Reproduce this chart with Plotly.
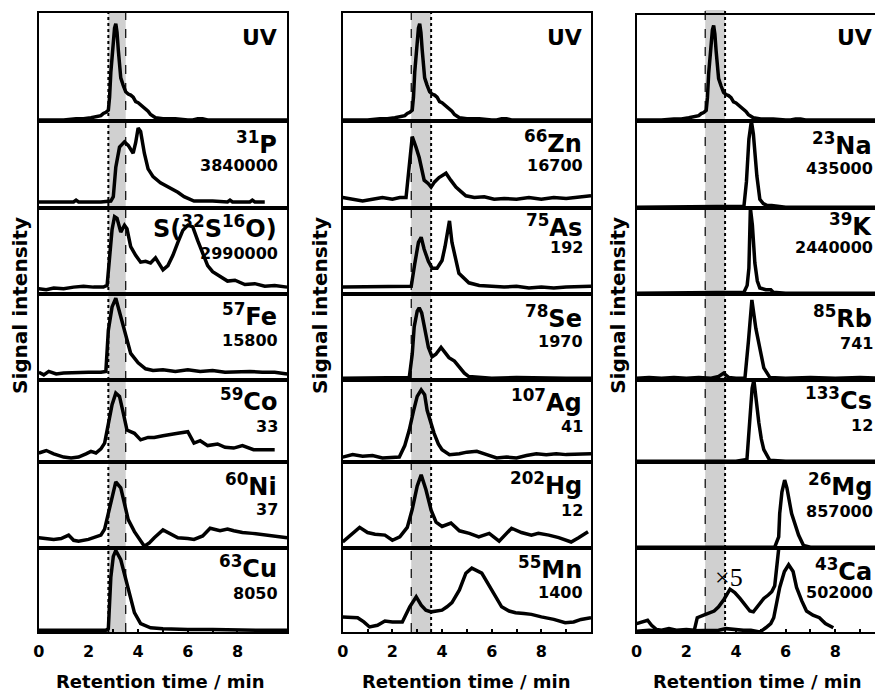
import plotly.graph_objects as go

# ---------------- data (normalised signal, fraction of panel height) ----------------
uv_t = [0, 0.5, 1.0, 1.5, 1.8, 2.1, 2.3, 2.5, 2.6, 2.7, 2.8, 2.85, 2.9, 2.95, 3.0, 3.05, 3.1, 3.15, 3.2, 3.25,
        3.3, 3.4, 3.5, 3.6, 3.7, 3.8, 3.9, 4.0, 4.1, 4.2, 4.3, 4.4, 4.5, 4.7, 5.0, 5.5, 6.0, 6.2, 6.4, 6.6,
        6.8, 7.0, 7.5, 8.0, 9.0, 10]
uv_y = [0.01, 0.01, 0.01, 0.02, 0.02, 0.03, 0.04, 0.05, 0.07, 0.08, 0.1, 0.22, 0.45, 0.62, 0.8, 0.86, 0.9, 0.82,
        0.66, 0.5, 0.4, 0.33, 0.27, 0.25, 0.24, 0.22, 0.18, 0.17, 0.15, 0.14, 0.12, 0.09, 0.06, 0.03, 0.02,
        0.02, 0.01, 0.01, 0.02, 0.02, 0.01, 0.01, 0.01, 0.01, 0.01, 0.01]

p_t = [0, 1.4, 1.5, 1.6, 2.5, 2.9, 3.0, 3.1, 3.25, 3.45, 3.6, 3.8, 3.9, 4.0, 4.1, 4.25, 4.4, 4.6, 4.9, 5.3,
       5.6, 5.85, 6.25, 7.0, 7.6, 7.7, 7.8, 8.5, 8.6, 8.7, 9.1]
p_y = [0.07, 0.07, 0.09, 0.07, 0.07, 0.08, 0.13, 0.47, 0.70, 0.76, 0.72, 0.63, 0.75, 0.92, 0.88, 0.63, 0.45,
       0.36, 0.29, 0.23, 0.18, 0.13, 0.08, 0.08, 0.07, 0.09, 0.07, 0.07, 0.09, 0.07, 0.07]

s_t = [0, 0.3, 0.6, 1.0, 1.4, 1.8, 2.2, 2.6, 2.75, 2.85, 2.95, 3.05, 3.15, 3.3, 3.45, 3.55, 3.7, 3.9, 4.1,
       4.3, 4.5, 4.7, 4.85, 5.0, 5.2, 5.4, 5.6, 5.8, 6.0, 6.2, 6.4, 6.6, 6.8, 7.0, 7.3, 7.6, 7.9, 8.3, 8.7,
       9.1, 9.5, 10]
s_y = [0.06, 0.05, 0.07, 0.06, 0.08, 0.09, 0.08, 0.08, 0.1, 0.4, 0.75, 0.9, 0.88, 0.72, 0.8, 0.76, 0.55,
       0.45, 0.37, 0.38, 0.36, 0.42, 0.35, 0.28, 0.33, 0.45, 0.6, 0.74, 0.8, 0.78, 0.62, 0.48, 0.33, 0.26,
       0.2, 0.15, 0.16, 0.11, 0.12, 0.09, 0.1, 0.08]

fe_t = [0, 0.2, 0.4, 0.7, 1.0, 1.5, 2.0, 2.5, 2.7, 2.8, 2.95, 3.1, 3.3, 3.5, 3.7, 4.0, 4.3, 4.6, 5.0, 5.5,
        6.0, 6.5, 7.0, 7.5, 8.0, 8.5, 9.0, 9.5, 10]
fe_y = [0.09, 0.06, 0.1, 0.07, 0.08, 0.09, 0.09, 0.09, 0.1, 0.58, 0.85, 0.95, 0.73, 0.5, 0.31, 0.2, 0.13,
        0.11, 0.12, 0.1, 0.12, 0.1, 0.11, 0.09, 0.1, 0.1, 0.09, 0.09, 0.07]

co_t = [0, 0.3, 0.6, 1.0, 1.3, 1.6, 1.9, 2.1, 2.3, 2.5, 2.65, 2.8, 2.95, 3.1, 3.25, 3.4, 3.55, 3.85, 4.1,
        4.4, 4.65, 5.0, 5.3, 5.6, 6.0, 6.25, 6.5, 6.8, 7.2, 7.5, 7.85, 8.2, 8.65, 9.0, 9.5]
co_y = [0.11, 0.14, 0.1, 0.06, 0.05, 0.06, 0.1, 0.13, 0.11, 0.16, 0.23, 0.45, 0.7, 0.84, 0.8, 0.6, 0.39,
        0.35, 0.27, 0.3, 0.3, 0.32, 0.34, 0.35, 0.37, 0.23, 0.26, 0.2, 0.22, 0.18, 0.17, 0.2, 0.15, 0.15, 0.15]

ni_t = [0, 0.3, 0.6, 0.9, 1.2, 1.4, 1.6, 2.0, 2.3, 2.5, 2.65, 2.8, 2.95, 3.1, 3.3, 3.45, 3.6, 3.85, 4.05,
        4.25, 4.45, 4.65, 5.0, 5.3, 5.6, 6.0, 6.25, 6.6, 6.9, 7.3, 7.6, 7.85, 8.2, 8.6, 9.2, 9.6, 10]
ni_y = [0.12, 0.11, 0.1, 0.11, 0.15, 0.09, 0.08, 0.1, 0.13, 0.15, 0.22, 0.4, 0.62, 0.77, 0.7, 0.5, 0.33,
        0.19, 0.1, 0.02, 0.06, 0.12, 0.21, 0.16, 0.12, 0.11, 0.1, 0.14, 0.23, 0.2, 0.22, 0.2, 0.18, 0.17,
        0.15, 0.13, 0.12]

cu_t = [0, 1.0, 1.5, 2.0, 2.7, 2.8, 2.9, 3.0, 3.1, 3.3, 3.45, 3.6, 3.85, 4.1, 4.5, 5.0, 5.5, 6.0, 7.0, 8.0,
        9.0, 10]
cu_y = [0.02, 0.02, 0.01, 0.02, 0.02, 0.04, 0.65, 0.9, 0.97, 0.86, 0.68, 0.5, 0.23, 0.1, 0.05, 0.04, 0.03,
        0.03, 0.03, 0.02, 0.02, 0.02]

zn_t = [0, 0.4, 0.8, 1.2, 1.6, 2.0, 2.3, 2.55, 2.65, 2.8, 2.95, 3.08, 3.28, 3.45, 3.56, 3.7, 3.88, 4.16,
        4.35, 4.56, 4.8, 4.96, 5.3, 5.7, 6.1, 6.5, 7.0, 7.5, 8.0, 8.5, 9.0, 9.5, 10]
zn_y = [0.12, 0.1, 0.08, 0.1, 0.12, 0.1, 0.12, 0.12, 0.4, 0.82, 0.7, 0.58, 0.32, 0.28, 0.24, 0.3, 0.35,
        0.4, 0.32, 0.24, 0.18, 0.14, 0.12, 0.13, 0.1, 0.11, 0.1, 0.12, 0.1, 0.12, 0.11, 0.13, 0.14]

as_t = [0, 0.5, 1.0, 1.5, 2.0, 2.5, 2.76, 2.9, 3.05, 3.16, 3.28, 3.45, 3.6, 3.8, 4.0, 4.12, 4.22, 4.3, 4.4,
        4.55, 4.68, 5.08, 5.5, 6.0, 6.5, 7.0, 7.5, 8.0, 8.5, 9.0, 9.5, 10]
as_y = [0.08, 0.08, 0.09, 0.08, 0.08, 0.08, 0.09, 0.35, 0.6, 0.66, 0.52, 0.38, 0.3, 0.3, 0.39, 0.55, 0.75,
        0.85, 0.6, 0.38, 0.24, 0.13, 0.1, 0.09, 0.08, 0.09, 0.07, 0.08, 0.07, 0.08, 0.08, 0.09]

se_t = [0, 1.0, 2.0, 2.68, 2.8, 2.88, 3.0, 3.08, 3.18, 3.28, 3.45, 3.6, 3.75, 3.96, 4.1, 4.28, 4.5, 4.68,
        4.9, 5.08, 5.5, 6.0, 7.0, 8.0, 9.0, 10]
se_y = [0.02, 0.02, 0.02, 0.03, 0.3, 0.62, 0.8, 0.84, 0.78, 0.62, 0.38, 0.27, 0.3, 0.38, 0.32, 0.26, 0.22,
        0.15, 0.08, 0.04, 0.03, 0.02, 0.03, 0.02, 0.02, 0.02]

ag_t = [0, 0.4, 0.8, 1.2, 1.6, 2.0, 2.28, 2.5, 2.68, 2.85, 3.0, 3.16, 3.3, 3.4, 3.55, 3.68, 3.85, 4.0, 4.3,
        4.7, 5.0, 5.4, 5.8, 6.2, 6.6, 7.0, 7.4, 7.8, 8.2, 8.6, 9.0, 9.5, 10]
ag_y = [0.06, 0.09, 0.07, 0.08, 0.05, 0.06, 0.06, 0.2, 0.39, 0.62, 0.8, 0.88, 0.82, 0.63, 0.47, 0.35, 0.22,
        0.15, 0.09, 0.1, 0.12, 0.13, 0.09, 0.05, 0.06, 0.05, 0.08, 0.1, 0.09, 0.1, 0.09, 0.1, 0.1]

hg_t = [0, 0.3, 0.68, 1.0, 1.3, 1.7, 2.0, 2.3, 2.6, 2.8, 3.0, 3.16, 3.35, 3.56, 3.76, 4.0, 4.36, 4.7, 5.1,
        5.48, 5.9, 6.3, 6.8, 7.2, 7.6, 7.88, 8.3, 8.7, 9.2, 9.5, 9.88]
hg_y = [0.07, 0.15, 0.24, 0.18, 0.16, 0.15, 0.09, 0.13, 0.24, 0.45, 0.72, 0.85, 0.68, 0.44, 0.3, 0.25,
        0.29, 0.2, 0.17, 0.13, 0.17, 0.08, 0.23, 0.18, 0.15, 0.17, 0.15, 0.12, 0.07, 0.12, 0.19]

mn_t = [0, 0.3, 0.6, 0.85, 1.08, 1.4, 1.7, 2.0, 2.4, 2.7, 2.96, 3.16, 3.35, 3.56, 3.8, 4.0, 4.2, 4.4, 4.7,
        4.96, 5.2, 5.36, 5.6, 5.88, 6.1, 6.4, 6.7, 6.96, 7.3, 7.6, 8.0, 8.5, 8.96, 9.3, 9.6, 10]
mn_y = [0.18, 0.17, 0.17, 0.12, 0.06, 0.08, 0.13, 0.12, 0.12, 0.3, 0.42, 0.32, 0.26, 0.24, 0.25, 0.26,
        0.3, 0.35, 0.5, 0.7, 0.76, 0.74, 0.7, 0.56, 0.45, 0.3, 0.25, 0.23, 0.22, 0.21, 0.18, 0.15, 0.11,
        0.12, 0.15, 0.17]

na_t = [0, 2.0, 4.0, 4.32, 4.42, 4.52, 4.62, 4.7, 4.84, 4.96, 5.1, 5.24, 5.44, 6.0, 8.0, 10]
na_y = [0.01, 0.01, 0.01, 0.02, 0.3, 0.79, 1.0, 0.85, 0.37, 0.1, 0.05, 0.03, 0.03, 0.01, 0.01, 0.01]

k_t = [0, 2.0, 4.0, 4.32, 4.45, 4.52, 4.58, 4.66, 4.76, 4.86, 4.96, 5.2, 5.4, 5.5, 6.0, 8.0, 10]
k_y = [0.01, 0.01, 0.01, 0.02, 0.1, 0.3, 1.0, 0.8, 0.36, 0.15, 0.07, 0.05, 0.05, 0.02, 0.01, 0.01, 0.01]

rb_t = [0, 0.5, 1.0, 1.5, 2.0, 2.5, 3.0, 3.3, 3.5, 3.7, 4.0, 4.36, 4.5, 4.64, 4.8, 5.0, 5.12, 5.36, 6.0,
        7.0, 8.0, 9.0, 10]
rb_y = [0.02, 0.03, 0.02, 0.03, 0.02, 0.03, 0.02, 0.04, 0.08, 0.03, 0.02, 0.02, 0.45, 0.93, 0.6, 0.3,
        0.14, 0.03, 0.02, 0.03, 0.02, 0.03, 0.02]

cs_t = [0, 4.0, 4.44, 4.56, 4.65, 4.72, 4.82, 4.92, 5.02, 5.12, 5.36, 6.0, 10]
cs_y = [0.01, 0.01, 0.03, 0.55, 0.9, 1.0, 0.7, 0.48, 0.28, 0.15, 0.02, 0.01, 0.01]

mg_t = [0, 3.0, 5.56, 5.72, 5.76, 5.85, 5.96, 6.05, 6.24, 6.52, 6.72, 7.0, 8.0, 9.0, 10]
mg_y = [0.01, 0.01, 0.01, 0.13, 0.4, 0.65, 0.79, 0.7, 0.4, 0.15, 0.03, 0.01, 0.01, 0.0, 0.01]

ca_t = [0, 0.5, 1.0, 1.5, 2.0, 2.5, 3.0, 3.3, 3.6, 3.9, 4.3, 4.6, 4.96, 5.2, 5.4, 5.52, 5.64, 5.76, 5.95,
        6.12, 6.3, 6.44, 6.65, 6.84, 7.1, 7.36, 7.6, 7.92]
ca_y = [0.01, 0.02, 0.01, 0.01, 0.02, 0.01, 0.01, 0.02, 0.04, 0.03, 0.02, 0.02, 0.0, 0.05, 0.1, 0.17, 0.33,
        0.53, 0.72, 0.8, 0.72, 0.53, 0.37, 0.25, 0.2, 0.17, 0.1, 0.05]

ca5_t = [0, 0.2, 0.44, 0.6, 0.8, 1.0, 1.3, 1.6, 2.0, 2.32, 2.44, 2.7, 2.95, 3.12, 3.3, 3.52, 3.76, 3.95,
         4.16, 4.36, 4.56, 4.7, 4.84, 5.0, 5.12, 5.3, 5.44, 5.56, 5.64, 5.72, 5.76]
ca5_y = [0.1, 0.12, 0.14, 0.08, 0.03, 0.02, 0.04, 0.02, 0.03, 0.02, 0.17, 0.2, 0.23, 0.25, 0.3, 0.39, 0.51,
         0.47, 0.4, 0.32, 0.25, 0.24, 0.29, 0.35, 0.4, 0.44, 0.48, 0.55, 0.73, 0.97, 1.1]

# labels: (isotope label, scale number)
col1_labels = [("UV", ""), ("<sup>31</sup>P", "3840000"), ("S(<sup>32</sup>S<sup>16</sup>O)", "2990000"),
               ("<sup>57</sup>Fe", "15800"), ("<sup>59</sup>Co", "33"), ("<sup>60</sup>Ni", "37"),
               ("<sup>63</sup>Cu", "8050")]
col2_labels = [("UV", ""), ("<sup>66</sup>Zn", "16700"), ("<sup>75</sup>As", "192"), ("<sup>78</sup>Se", "1970"),
               ("<sup>107</sup>Ag", "41"), ("<sup>202</sup>Hg", "12"), ("<sup>55</sup>Mn", "1400")]
col3_labels = [("UV", ""), ("<sup>23</sup>Na", "435000"), ("<sup>39</sup>K", "2440000"), ("<sup>85</sup>Rb", "741"),
               ("<sup>133</sup>Cs", "12"), ("<sup>26</sup>Mg", "857000"), ("<sup>43</sup>Ca", "502000")]

x_tick_vals = [0, 1, 2, 3, 4, 5, 6, 7, 8, 9, 10]
x_tick_text = ["0", "", "2", "", "4", "", "6", "", "8", "", ""]
band_col12 = [2.8, 3.5]
band_col23 = [2.76, 3.56]

# ---------------- layout geometry (screen pixels; page offsets the plot) ----------------
OFFX, OFFY = 12, 8
W, H = 883 - OFFX, 695 - OFFY
row_px = [13, 121, 208, 294, 380, 462, 548, 632]
col_px = [(37, 287), (343, 593), (639, 883)]
col_range = [10.0, 10.0, (883 - 639) / 25.0]
FONT = "DejaVu Sans"

def px(x):
    return (x - OFFX) / W

def py(y):
    return 1 - (y - OFFY) / H

columns = [
    [(uv_t, uv_y), (p_t, p_y), (s_t, s_y), (fe_t, fe_y), (co_t, co_y), (ni_t, ni_y), (cu_t, cu_y)],
    [(uv_t, uv_y), (zn_t, zn_y), (as_t, as_y), (se_t, se_y), (ag_t, ag_y), (hg_t, hg_y), (mn_t, mn_y)],
    [(uv_t, uv_y), (na_t, na_y), (k_t, k_y), (rb_t, rb_y), (cs_t, cs_y), (mg_t, mg_y), (ca_t, ca_y)],
]

fig = go.Figure()
layout = {}
for c in range(3):
    for r in range(7):
        n = c * 7 + r + 1
        xs = "" if n == 1 else str(n)
        t, y = columns[c][r]
        fig.add_trace(go.Scatter(x=t, y=y, mode="lines", line=dict(color="black", width=3.5),
                                 xaxis="x" + xs, yaxis="y" + xs, showlegend=False, hoverinfo="skip"))
        if c == 2 and r == 6:
            fig.add_trace(go.Scatter(x=ca5_t, y=ca5_y, mode="lines", line=dict(color="black", width=3.5),
                                     xaxis="x" + xs, yaxis="y" + xs, showlegend=False, hoverinfo="skip"))
        top = row_px[r] if not (c == 2 and r == 0) else 15
        bottom = row_px[r + 1]
        bottom_row = (r == 6)
        layout["xaxis" + xs] = dict(
            domain=[px(col_px[c][0]), min(1.0, px(col_px[c][1]))], range=[0, col_range[c]], anchor="y" + xs,
            showline=True, linecolor="black", linewidth=2, mirror=True, showgrid=False, zeroline=False,
            tickvals=x_tick_vals if bottom_row else [], ticktext=x_tick_text if bottom_row else [],
            showticklabels=bottom_row,
            ticks="inside" if bottom_row else "", ticklen=3, tickwidth=2, tickcolor="black",
            ticklabelstandoff=4,
            tickfont=dict(family=FONT, size=16, color="black", weight="bold"),
        )
        layout["yaxis" + xs] = dict(
            domain=[py(bottom), py(top)], range=[0, 1], anchor="x" + xs,
            showline=True, linecolor="black", linewidth=2, mirror=(c != 2), showgrid=False,
            zeroline=False, showticklabels=False, ticks="",
        )

shapes = []
bands = [band_col12, band_col23, band_col23]
edge_styles = [("dot", "dash"), ("dash", "dot"), ("dash", "dot")]
for c in range(3):
    xa = "x" if c == 0 else "x" + str(c * 7 + 1)
    y_top = py(13) if c < 2 else py(10)
    b0, b1 = bands[c]
    shapes.append(dict(type="rect", xref=xa, yref="paper", x0=b0, x1=b1, y0=py(632), y1=y_top,
                       fillcolor="#d0d0d0", line=dict(width=0), layer="below"))
    for xv, st in zip((b0, b1), edge_styles[c]):
        shapes.append(dict(type="line", xref=xa, yref="paper", x0=xv, x1=xv, y0=py(632), y1=y_top,
                           line=dict(color="black", width=2 if st == "dot" else 1.2, dash=st), layer="above"))

annotations = []
label_pos = {
    0: dict(right=280, rows=[(38, None), (143, 166), (227, 253), (315, 340), (400, 426), (485, 509), (567, 593)]),
    1: dict(right=587, rows=[(38, None), (142, 166), (226, 248), (317, 342), (401, 426), (484, 510), (568, 592)]),
    2: dict(right=879, rows=[(38, None), (144, 168), (225, 247), (317, 343), (399, 425), (485, 511), (570, 592)]),
}
all_labels = [col1_labels, col2_labels, col3_labels]
for c in range(3):
    right = label_pos[c]["right"]
    for r, (name, num) in enumerate(all_labels[c]):
        y1, y2 = label_pos[c]["rows"][r]
        size = 22 if name == "UV" else 24
        annotations.append(dict(text="<b>" + name + "</b>", x=px(right - 1), y=py(y1), xref="paper", yref="paper",
                                xanchor="right", yanchor="middle", showarrow=False,
                                font=dict(family=FONT, size=size, color="black")))
        if num:
            annotations.append(dict(text="<b>" + num + "</b>", x=px(right), y=py(y2), xref="paper", yref="paper",
                                    xanchor="right", yanchor="middle", showarrow=False,
                                    font=dict(family=FONT, size=16, color="black")))

annotations.append(dict(text="×5", x=px(732), y=py(577), xref="paper", yref="paper", xanchor="center",
                        yanchor="middle", showarrow=False,
                        font=dict(family="Liberation Serif", size=26, color="black")))

for c, (cx, yx) in enumerate([(160, 18), (468, 320), (761, 620)]):
    annotations.append(dict(text="<b>Retention time / min</b>", x=px(cx), y=py(681), xref="paper", yref="paper",
                            xanchor="center", yanchor="middle", showarrow=False,
                            font=dict(family=FONT, size=18, color="black")))
    annotations.append(dict(text="<b>Signal intensity</b>", x=px(yx), y=py(305), xref="paper", yref="paper",
                            xanchor="center", yanchor="middle", showarrow=False, textangle=-90,
                            font=dict(family=FONT, size=20, color="black")))

fig.update_layout(
    width=W, height=H, margin=dict(l=0, r=0, t=0, b=0),
    paper_bgcolor="white", plot_bgcolor="rgba(0,0,0,0)",
    shapes=shapes, annotations=annotations, showlegend=False,
    **layout,
)
fig.write_html("out.html")
